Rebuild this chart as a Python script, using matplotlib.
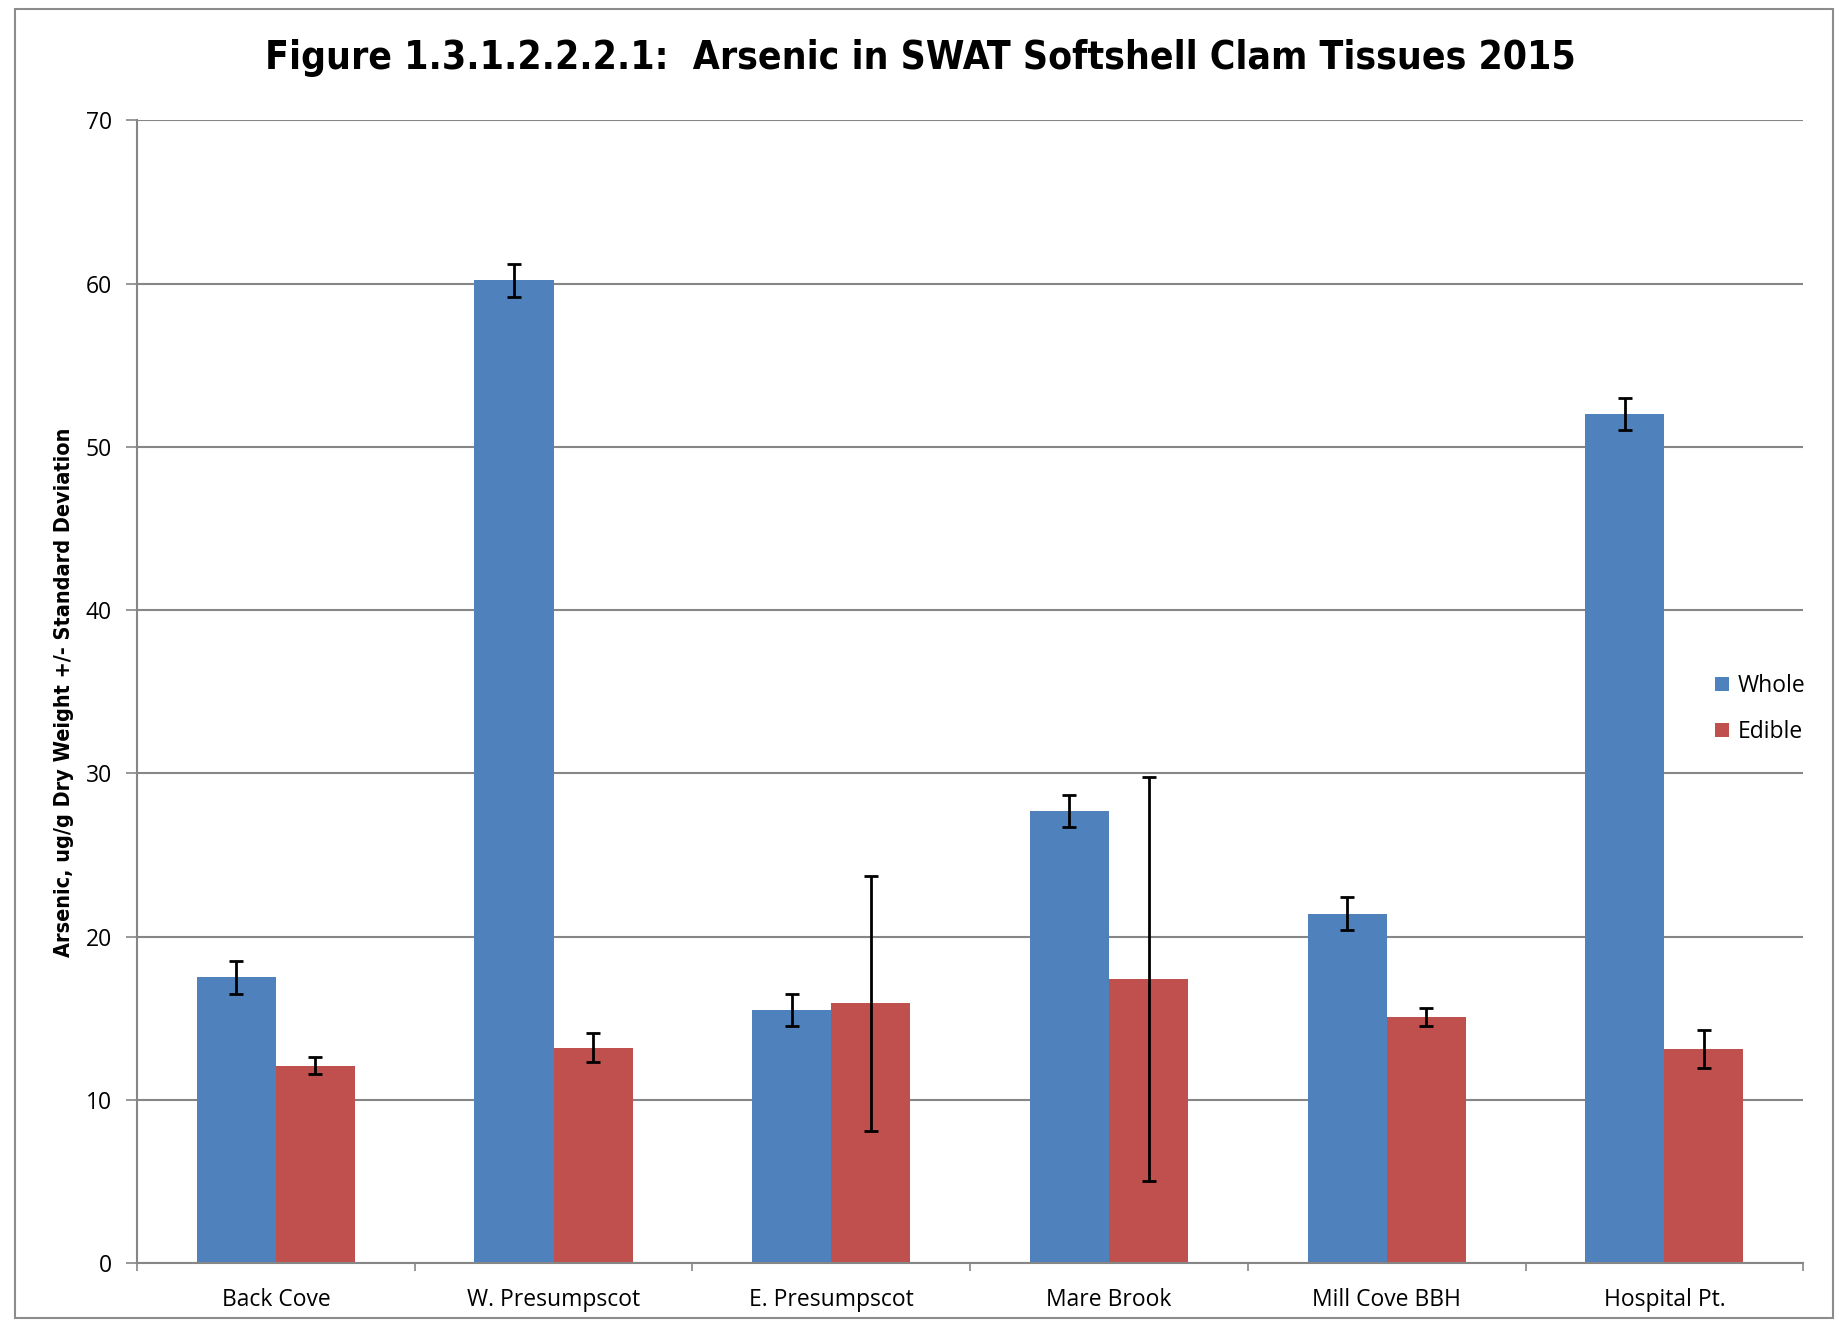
import numpy as np
import matplotlib
matplotlib.use("Agg")
import matplotlib.pyplot as plt
from matplotlib.patches import Rectangle


# datas
sites = ["Back Cove", "W. Presumpscot", "E. Presumpscot",
         "Mare Brook", "Mill Cove BBH", "Hospital Pt."]
whole = [17.5, 60.2, 15.5, 27.7, 21.4, 52.0]
whole_sd = [1.0, 1.0, 1.0, 1.0, 1.0, 1.0]
edible = [12.1, 13.2, 15.9, 17.4, 15.1, 13.1]
edible_sd = [0.5, 0.9, 7.8, 12.4, 0.55, 1.15]

title = "Figure 1.3.1.2.2.2.1:  Arsenic in SWAT Softshell Clam Tissues 2015"
ylabel = "Arsenic, ug/g Dry Weight +/- Standard Deviation"

# fonts
plt.rcParams["font.family"] = ["Open Sans", "DejaVu Sans"]

# create a figure
fig = plt.figure(figsize=(18.4, 13.22), dpi=100)
ax = fig.add_axes([0.0745, 0.0446, 0.9055, 0.8644])

# outer chart border
fig.patches.append(Rectangle((0.008, 0.003), 0.988, 0.99, transform=fig.transFigure,
                             fill=False, edgecolor="#8c8c8c", linewidth=1.5))

# bars
x = np.arange(len(sites))
w = 0.285
ax.bar(x - w / 2, whole, w, color="#4F81BD", label="Whole", zorder=2,
       yerr=whole_sd, error_kw=dict(ecolor="black", elinewidth=2, capsize=5, capthick=2))
ax.bar(x + w / 2, edible, w, color="#C0504D", label="Edible", zorder=2,
       yerr=edible_sd, error_kw=dict(ecolor="black", elinewidth=2, capsize=5, capthick=2))

# limits and ticks
ax.set_xlim(-0.5, len(sites) - 0.5)
ax.set_ylim(0, 70)
ax.set_yticks(np.arange(0, 71, 10))
ax.set_xticks(x)
ax.set_xticklabels(sites, fontsize=16.5)
ax.set_xticks(np.arange(-0.5, len(sites), 1), minor=True)
ax.tick_params(axis="x", which="major", length=0, pad=18)
ax.tick_params(axis="x", which="minor", length=6, width=1.2, color="#868686")
ax.tick_params(axis="y", length=8, width=1.2, color="#868686", labelsize=16.5, pad=10)

# grid lines
ax.grid(axis="y", color="#868686", linewidth=1.5, zorder=0)
ax.set_axisbelow(True)
for s in ["top", "right"]:
    ax.spines[s].set_visible(False)
for s in ["left", "bottom"]:
    ax.spines[s].set_color("#868686")
    ax.spines[s].set_linewidth(1.5)

# titles
fig.text(0.5, 0.956, title, ha="center", va="center", fontsize=28,
         fontweight="bold", family="DejaVu Sans", fontstretch="condensed")
fig.text(0.035, 0.476, ylabel, ha="center", va="center", rotation=90,
         fontsize=15.5, fontweight="bold", family="DejaVu Sans", fontstretch="condensed")

# legend
ax.legend(loc="center left", bbox_to_anchor=(0.927, 0.4637), bbox_transform=fig.transFigure,
          frameon=False, fontsize=16.5, handlelength=0.6, handleheight=0.6,
          handletextpad=0.4, labelspacing=0.95, borderaxespad=0)

fig.savefig("out.png", dpi=100)
